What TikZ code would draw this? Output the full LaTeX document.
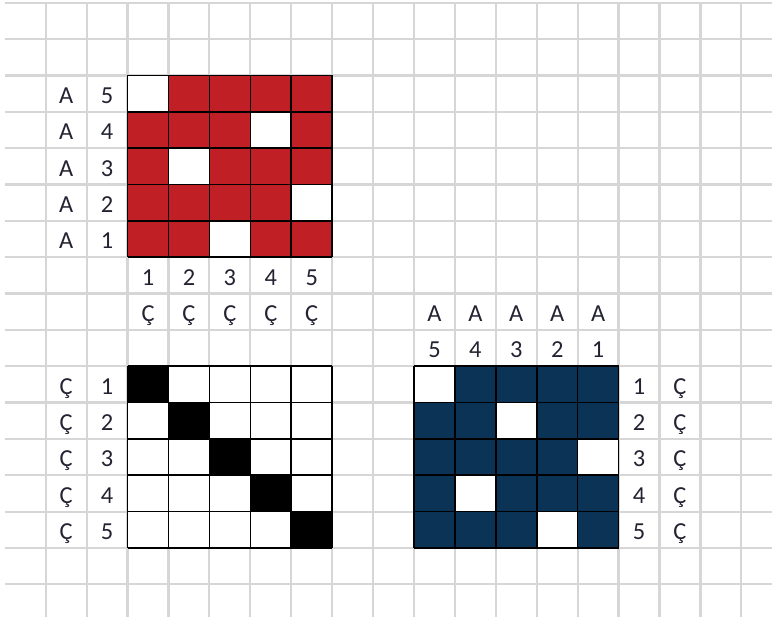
\documentclass[tikz,border=0pt]{standalone}
\usepackage{fontspec}
\setmainfont{Carlito}
\definecolor{gridgray}{RGB}{214,214,214}
\definecolor{cellred}{RGB}{192,31,38}
\definecolor{cellblue}{RGB}{11,51,86}
\definecolor{txt}{RGB}{35,35,50}
\begin{document}
\begin{tikzpicture}[x=40.92bp,y=-36.35bp,
  gridline/.style={draw=gridgray,line width=2.2bp},
  cellborder/.style={draw=black,line width=1.6bp},
  lbl/.style={font=\fontsize{24.5}{24.5}\selectfont,text=txt,inner sep=0pt,anchor=base}]
\useasboundingbox (-0.1173,-0.0743) rectangle (18.749,17.037);
\fill[white] (-0.1173,-0.0743) rectangle (18.749,17.037);
% spreadsheet grid
\foreach \r in {0,...,16} \draw[gridline] (0,\r) -- (18.749,\r);
\foreach \c in {1,...,18} \draw[gridline] (\c,0) -- (\c,16.9);
% red matrix (rows 2..6, cols 3..7)
\foreach \i/\w in {0/0,1/3,2/1,3/4,4/2}{
  \foreach \j in {0,...,4}{
    \ifnum\j=\w
      \fill[white] (3+\j,2+\i) rectangle (4+\j,3+\i);
    \else
      \fill[cellred] (3+\j,2+\i) rectangle (4+\j,3+\i);
    \fi
  }
}
\foreach \k in {0,...,5}{
  \draw[cellborder] (3+\k,2) -- (3+\k,7);
  \draw[cellborder] (3,2+\k) -- (8,2+\k);
}
% identity matrix (rows 10..14, cols 3..7)
\foreach \i in {0,...,4}{
  \foreach \j in {0,...,4}{
    \ifnum\j=\i
      \fill[black] (3+\j,10+\i) rectangle (4+\j,11+\i);
    \else
      \fill[white] (3+\j,10+\i) rectangle (4+\j,11+\i);
    \fi
  }
}
\foreach \k in {0,...,5}{
  \draw[cellborder] (3+\k,10) -- (3+\k,15);
  \draw[cellborder] (3,10+\k) -- (8,10+\k);
}
% blue matrix (rows 10..14, cols 10..14)
\foreach \i/\w in {0/0,1/2,2/4,3/1,4/3}{
  \foreach \j in {0,...,4}{
    \ifnum\j=\w
      \fill[white] (10+\j,10+\i) rectangle (11+\j,11+\i);
    \else
      \fill[cellblue] (10+\j,10+\i) rectangle (11+\j,11+\i);
    \fi
  }
}
\foreach \k in {0,...,5}{
  \draw[cellborder] (10+\k,10) -- (10+\k,15);
  \draw[cellborder] (10,10+\k) -- (15,10+\k);
}
% labels of red matrix
\foreach \i/\n in {0/5,1/4,2/3,3/2,4/1}{
  \node[lbl] (ra\i) at (1.5,2.77+\i) {A};
  \node[lbl] (rn\i) at (2.5,2.77+\i) {\n};
}
\foreach \j in {1,...,5}{
  \node[lbl] (rc\j) at (2.5+\j,7.77) {\j};
  \node[lbl] (rs\j) at (2.5+\j,8.77) {Ç};
}
% labels of identity matrix
\foreach \i in {1,...,5}{
  \node[lbl] (ic\i) at (1.5,9.77+\i) {Ç};
  \node[lbl] (in\i) at (2.5,9.77+\i) {\i};
}
% labels of blue matrix
\foreach \j/\n in {0/5,1/4,2/3,3/2,4/1}{
  \node[lbl] (ba\j) at (10.5+\j,8.77) {A};
  \node[lbl] (bn\j) at (10.5+\j,9.77) {\n};
}
\foreach \i in {1,...,5}{
  \node[lbl] (br\i) at (15.5,9.77+\i) {\i};
  \node[lbl] (bc\i) at (16.5,9.77+\i) {Ç};
}
\end{tikzpicture}
\end{document}
